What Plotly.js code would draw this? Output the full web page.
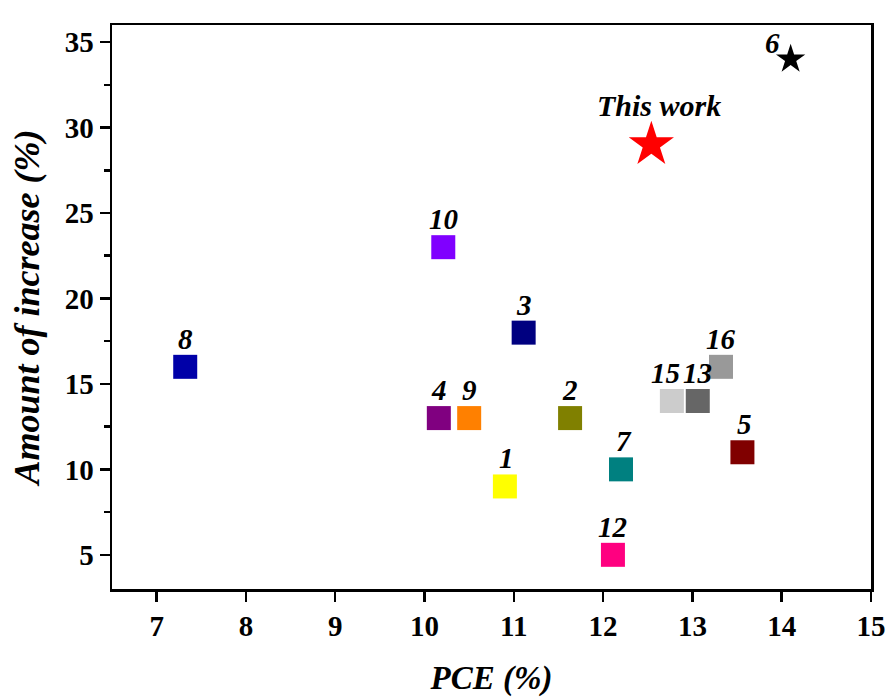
<!DOCTYPE html>
<html>
<head>
<meta charset="utf-8">
<script src="https://cdn.plot.ly/plotly-3.0.1.min.js"></script>
<style>html,body{margin:0;padding:0;background:#fff;}#chart{width:890px;height:697px;}</style>
</head>
<body>
<div id="chart"></div>
<script>
// Data
const labels = ["1","2","3","4","5","6","7","8","9","10","12","13","15","16","This work"];
const pce    = [10.90, 11.63, 11.11, 10.16, 13.56, 14.10, 12.20, 7.32, 10.50, 10.21, 12.11, 13.06, 12.77, 13.32, 12.54];
const increase = [9, 13, 18, 13, 11, 34, 10, 16, 13, 23, 5, 14, 14, 16, 29];
const colors = ["#FFFF00","#808000","#000080","#800080","#800000","#000000","#008080","#0000A8","#FF8000","#8000FF","#FF0080","#666666","#CCCCCC","#999999","#FF0000"];

// Styling (not data): marker shapes and label nudges in pixels
const style = {
  symbol: {"6": "star", "This work": "star"},
  size: {"6": 22, "This work": 34},
  dx: {"1": 2, "5": 2, "6": -18, "7": 3, "15": -6, "This work": 8},
  dy: {"6": -12, "This work": 11}
};

const FONT = "Liberation Serif, Times New Roman, serif";
const traces = labels.map((lab, i) => ({
  type: "scatter",
  mode: "markers",
  x: [pce[i]],
  y: [increase[i]],
  marker: {symbol: style.symbol[lab] || "square", size: style.size[lab] || 24, color: colors[i], line: {width: 0}},
  showlegend: false,
  cliponaxis: false,
  hoverinfo: "x+y"
}));

const annotations = labels.map((lab, i) => ({
  x: pce[i], y: increase[i], xref: "x", yref: "y",
  text: lab, showarrow: false,
  xanchor: "center", yanchor: "bottom",
  xshift: style.dx[lab] || 0,
  yshift: 10 + (style.dy[lab] || 0),
  font: {family: FONT, size: lab === "This work" ? 30 : 29, color: "#000", weight: "bold", style: "italic"}
}));

const layout = {
  width: 890, height: 697,
  margin: {l: 112, r: 19, t: 25, b: 108},
  paper_bgcolor: "#fff", plot_bgcolor: "#fff",
  showlegend: false,
  annotations: annotations,
  xaxis: {
    range: [6.5, 15], dtick: 1, tick0: 0,
    showgrid: false, zeroline: false,
    showline: true, linecolor: "#000", linewidth: 2.5, mirror: true,
    ticks: "outside", ticklen: 10, tickwidth: 2.5, tickcolor: "#000",
    tickfont: {family: FONT, size: 29, color: "#000", weight: "bold"},
    title: {text: "PCE (%)", font: {family: FONT, size: 33, color: "#000", weight: "bold", style: "italic"}, standoff: 28}
  },
  yaxis: {
    range: [3, 36], dtick: 5, tick0: 0,
    showgrid: false, zeroline: false,
    showline: true, linecolor: "#000", linewidth: 2.5, mirror: true,
    ticks: "outside", ticklen: 10, tickwidth: 2.5, tickcolor: "#000",
    minor: {dtick: 2.5, ticks: "outside", ticklen: 6, tickwidth: 2.5, tickcolor: "#000", showgrid: false},
    tickfont: {family: FONT, size: 29, color: "#000", weight: "bold"},
    title: {text: "Amount of increase (%)", font: {family: FONT, size: 36, color: "#000", weight: "bold", style: "italic"}, standoff: 14}
  }
};

Plotly.newPlot("chart", traces, layout, {displayModeBar: false, staticPlot: true});
</script>
</body>
</html>
